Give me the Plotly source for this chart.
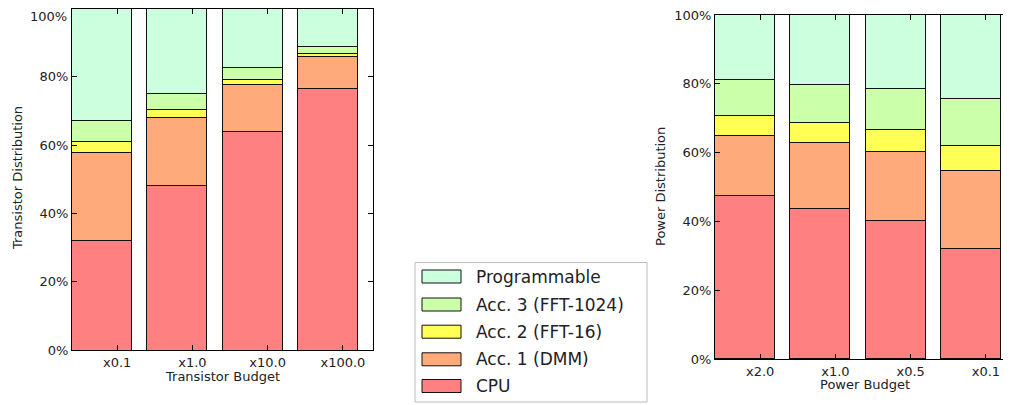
import plotly.graph_objects as go

W, H = 1011, 405
OFF = 8  # page body margin in the rendered view

series_names = ["CPU", "Acc. 1 (DMM)", "Acc. 2 (FFT-16)", "Acc. 3 (FFT-1024)", "Programmable"]
series_colors = ["#ff8080", "#ffaa7a", "#ffff55", "#ccffaa", "#ccffdd"]

transistor_budget = ["x0.1", "x1.0", "x10.0", "x100.0"]
t_cpu = [32.2, 48.3, 64.0, 76.7]
t_acc1 = [25.7, 19.7, 13.7, 9.1]
t_acc2 = [3.1, 2.3, 1.6, 1.0]
t_acc3 = [6.2, 4.7, 3.3, 2.1]
t_prog = [32.8, 25.0, 17.4, 11.1]

power_budget = ["x2.0", "x1.0", "x0.5", "x0.1"]
p_cpu = [47.5, 43.7, 40.1, 31.9]
p_acc1 = [17.4, 19.0, 20.1, 22.8]
p_acc2 = [5.6, 5.8, 6.3, 7.2]
p_acc3 = [10.5, 11.2, 11.9, 13.7]
p_prog = [19.0, 20.3, 21.6, 24.4]

pct_vals = [0, 20, 40, 60, 80, 100]
pct_text = ["0%", "20%", "40%", "60%", "80%", "100%"]

FONT = "DejaVu Sans"
TXT = "#222222"


def px_x(x):
    return min(1.0, max(0.0, (x - OFF) / W))


def px_y(y):
    return min(1.0, max(0.0, 1 - (y - OFF) / H))


fig = go.Figure()


def add_stack(series, cats, xa, ya):
    for name, color, vals in zip(series_names, series_colors, series):
        fig.add_trace(go.Bar(
            x=[i + 0.4 for i in range(len(cats))], y=vals, width=0.8,
            name=name, marker=dict(color=color, line=dict(color="#111111", width=1)),
            xaxis=xa, yaxis=ya, showlegend=False,
        ))


add_stack([t_cpu, t_acc1, t_acc2, t_acc3, t_prog], transistor_budget, "x", "y")
add_stack([p_cpu, p_acc1, p_acc2, p_acc3, p_prog], power_budget, "x2", "y2")

axis_common = dict(showgrid=False, zeroline=False, showline=True, linecolor="#000000", linewidth=1,
                   ticks="inside", ticklen=5, tickcolor="#000000", automargin=False,
                   ticklabeloverflow="allow",
                   tickfont=dict(family=FONT, size=13, color=TXT))

left_text = pct_text[:-1] + [""]  # top label drawn as annotation (edge of page)

fig.update_layout(
    width=W, height=H, autosize=False, margin=dict(l=0, r=0, t=0, b=0, pad=0, autoexpand=False),
    paper_bgcolor="white", plot_bgcolor="white", barmode="stack", bargap=0, showlegend=False,
    font=dict(family=FONT, color=TXT),
    xaxis=dict(domain=[px_x(72), px_x(373)], range=[0, 4], anchor="y", mirror="allticks",
               tickvals=[i + 0.6 for i in range(4)], ticktext=transistor_budget, **axis_common),
    yaxis=dict(domain=[px_y(350), px_y(8.5)], range=[0, 100], anchor="x", mirror="allticks",
               tickvals=pct_vals, ticktext=left_text, **axis_common),
    xaxis2=dict(domain=[px_x(715), px_x(1016)], range=[0, 4], anchor="y2", mirror="allticks",
                tickvals=[i + 0.6 for i in range(4)], ticktext=power_budget, **axis_common),
    yaxis2=dict(domain=[px_y(359), px_y(15)], range=[0, 100], anchor="x2", mirror="allticks",
                tickvals=pct_vals, ticktext=pct_text, **axis_common),
)

annotations = [
    dict(text="Transistor Distribution", x=px_x(17), y=px_y(178), textangle=-90, font=dict(size=13)),
    dict(text="Transistor Budget", x=px_x(222), y=px_y(376), font=dict(size=13)),
    dict(text="Power Distribution", x=px_x(660), y=px_y(187), textangle=-90, font=dict(size=13)),
    dict(text="Power Budget", x=px_x(865), y=px_y(384), font=dict(size=13)),
    dict(text=pct_text[-1], x=px_x(68), y=1, xanchor="right", yanchor="top", font=dict(size=13),
         borderpad=0),
]

shapes = [dict(type="rect", xref="paper", yref="paper", x0=px_x(415), x1=px_x(647),
               y0=px_y(402), y1=px_y(262.5), line=dict(color="#bbbbbb", width=1), fillcolor="white")]

row_y = [386, 359.3, 331.7, 304.5, 276.5]  # CPU ... Programmable (bottom to top)
for name, color, yc in zip(series_names, series_colors, row_y):
    shapes.append(dict(type="rect", xref="paper", yref="paper", x0=px_x(422), x1=px_x(461),
                       y0=px_y(yc + 6.5), y1=px_y(yc - 6.5), fillcolor=color,
                       line=dict(color="#111111", width=1)))
    annotations.append(dict(text=name, x=px_x(474), y=px_y(yc), xanchor="left",
                            font=dict(size=17)))

for a in annotations:
    a.update(xref="paper", yref="paper", showarrow=False)
    a.setdefault("xanchor", "center")
    a.setdefault("yanchor", "middle")
    a["font"].update(family=FONT, color=TXT)

fig.update_layout(annotations=annotations, shapes=shapes)

fig.write_html("out.html")
